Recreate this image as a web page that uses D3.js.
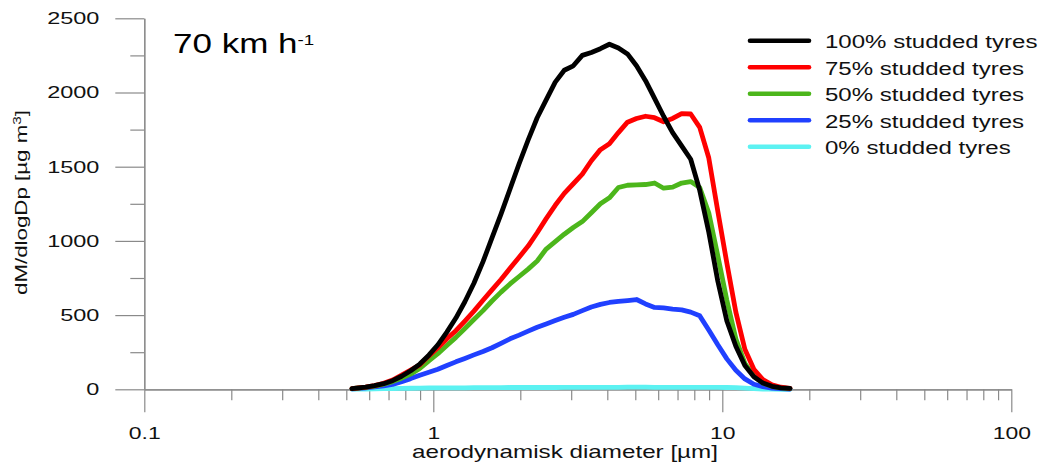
<!DOCTYPE html>
<html>
<head>
<meta charset="utf-8">
<script src="https://cdn.jsdelivr.net/npm/d3@7"></script>
<style>
  html, body { margin: 0; padding: 0; background: #fff; }
  svg { display: block; font-family: "Liberation Sans", Arial, sans-serif; }
</style>
</head>
<body>
<svg id="chart" width="1044" height="470"></svg>
<script>
// Aerodynamic diameter bins (µm)
const diameters = [0.523, 0.542, 0.583, 0.626, 0.673, 0.723, 0.777, 0.835, 0.898, 0.965,
  1.037, 1.114, 1.197, 1.286, 1.382, 1.486, 1.596, 1.715, 1.843, 1.981,
  2.129, 2.288, 2.458, 2.642, 2.839, 3.051, 3.278, 3.523, 3.786, 4.068,
  4.371, 4.698, 5.048, 5.425, 5.829, 6.264, 6.732, 7.234, 7.774, 8.354,
  8.977, 9.647, 10.37, 11.14, 11.97, 12.86, 13.82, 14.86, 15.96, 17.15];

// dM/dlogDp (µg m-3) for each share of studded tyres
const studded100 = [5, 8, 15, 25, 38, 58, 88, 125, 170, 230,
  300, 385, 480, 590, 715, 860, 1020, 1180, 1350, 1520,
  1680, 1830, 1950, 2070, 2150, 2180, 2250, 2270, 2295, 2325,
  2300, 2260, 2180, 2080, 1960, 1840, 1730, 1640, 1550, 1340,
  1060, 730, 460, 290, 160, 85, 42, 20, 10, 6];
const studded75 = [5, 8, 15, 25, 40, 62, 95, 130, 165, 225,
  280, 340, 395, 460, 527, 600, 670, 740, 815, 890,
  965, 1055, 1150, 1240, 1320, 1385, 1450, 1540, 1615, 1655,
  1730, 1800, 1825, 1840, 1830, 1803, 1825, 1858, 1855, 1765,
  1560, 1200, 850, 520, 270, 135, 65, 30, 14, 7];
const studded50 = [4, 7, 13, 22, 35, 52, 75, 102, 140, 192,
  240, 295, 350, 410, 470, 530, 595, 655, 710, 760,
  810, 865, 945, 995, 1045, 1090, 1130, 1190, 1250, 1290,
  1360, 1375, 1378, 1380, 1390, 1355, 1362, 1390, 1400, 1360,
  1190, 900, 600, 340, 175, 90, 42, 20, 9, 5];
const studded25 = [3, 5, 10, 16, 23, 33, 51, 72, 95, 115,
  135, 160, 185, 208, 232, 255, 280, 310, 340, 365,
  392, 418, 440, 463, 485, 505, 530, 555, 572, 585,
  592, 598, 605, 575, 552, 548, 540, 535, 520, 495,
  400, 300, 205, 128, 70, 34, 18, 8, 4, 2];
const studded0 = [1, 1, 2, 3, 4, 5, 6, 7, 8, 9,
  9, 10, 10, 10, 11, 11, 11, 11, 12, 12,
  12, 12, 12, 12, 13, 13, 13, 13, 13, 13,
  13, 14, 14, 14, 13, 13, 13, 13, 13, 13,
  13, 13, 12, 11, 8, 4, 2, 1, 0, 0];

const seriesNames = ["100% studded tyres", "75% studded tyres", "50% studded tyres",
  "25% studded tyres", "0% studded tyres"];
const seriesValues = [studded100, studded75, studded50, studded25, studded0];
const seriesColors = ["#000000", "#ff0000", "#4cb61b", "#2040ff", "#5cf2f2"];

const yMajorTicks = [0, 500, 1000, 1500, 2000, 2500];
const yMinorTicks = [250, 750, 1250, 1750, 2250];
const xMajorTicks = [0.1, 1, 10, 100];
const xTickLabels = ["0.1", "1", "10", "100"];

const svg = d3.select("#chart");
const x = d3.scaleLog().domain([0.1, 100]).range([144.3, 1011.3]);
const y = d3.scaleLinear().domain([0, 2500]).range([389.3, 18.3]);
const axisGrey = "#8a8a8a";

// widen a text element horizontally around its anchor point
function widen(sel, sx) {
  sel.each(function () {
    const t = d3.select(this);
    const tx = +t.attr("x") || 0;
    t.attr("x", 0).attr("transform", `translate(${tx},0) scale(${sx},1)`);
  });
}

// ---- y axis ----
const yMinor = svg.append("g").attr("transform", `translate(${x(0.1)},0)`)
  .call(d3.axisLeft(y).tickValues(yMinorTicks).tickSize(14).tickSizeOuter(0).tickFormat(""));
const yMajor = svg.append("g").attr("transform", `translate(${x(0.1)},0)`)
  .call(d3.axisLeft(y).tickValues(yMajorTicks).tickSize(29).tickPadding(16).tickSizeOuter(0)
    .tickFormat(d3.format("d")));
[yMinor, yMajor].forEach(g => {
  g.select(".domain").attr("stroke", axisGrey).attr("stroke-width", 1.2);
  g.selectAll(".tick line").attr("stroke", axisGrey).attr("stroke-width", 1.2);
});
yMajor.selectAll(".tick text").attr("fill", "#111").attr("font-size", 17)
  .attr("font-family", "Liberation Sans, Arial, sans-serif").call(widen, 1.38);

// ---- x axis ----
const xMinorTicks = x.ticks().filter(v => !xMajorTicks.some(m => Math.abs(m - v) < 1e-9));
const xMinor = svg.append("g").attr("transform", `translate(0,${y(0)})`)
  .call(d3.axisBottom(x).tickValues(xMinorTicks).tickSize(11).tickSizeOuter(0).tickFormat(""));
const xMajor = svg.append("g").attr("transform", `translate(0,${y(0)})`)
  .call(d3.axisBottom(x).tickValues(xMajorTicks).tickSize(23).tickPadding(15).tickSizeOuter(0)
    .tickFormat((d, i) => xTickLabels[i]));
[xMinor, xMajor].forEach(g => {
  g.select(".domain").attr("stroke", axisGrey).attr("stroke-width", 1.2);
  g.selectAll(".tick line").attr("stroke", axisGrey).attr("stroke-width", 1.2);
});
xMajor.selectAll(".tick text").attr("fill", "#111").attr("font-size", 17)
  .attr("font-family", "Liberation Sans, Arial, sans-serif").call(widen, 1.35);

// ---- curves (drawn from 0% up to 100% so the 100% line is on top) ----
const line = d3.line()
  .x(d => x(d.d))
  .y(d => y(d.v));
for (let s = seriesValues.length - 1; s >= 0; s--) {
  const pts = diameters.map((d, i) => ({ d: d, v: seriesValues[s][i] }));
  svg.append("path")
    .datum(pts)
    .attr("d", line)
    .attr("fill", "none")
    .attr("stroke", seriesColors[s])
    .attr("stroke-width", 4.8)
    .attr("stroke-linejoin", "round")
    .attr("stroke-linecap", "round");
}

// ---- legend ----
const legend = svg.append("g");
seriesNames.forEach((name, i) => {
  const ly = 40.7 + i * 26.5;
  legend.append("line")
    .attr("x1", 750).attr("x2", 809).attr("y1", ly).attr("y2", ly)
    .attr("stroke", seriesColors[i]).attr("stroke-width", 4.6).attr("stroke-linecap", "round");
  legend.append("g").attr("transform", `translate(825,${ly + 7.3}) scale(1.3,1)`)
    .append("text").attr("fill", "#111").attr("font-size", 18.5).text(name);
});

// ---- speed label ----
const speed = svg.append("g").attr("transform", "translate(173,53.3) scale(1.25,1)")
  .append("text").attr("fill", "#000").attr("font-size", 28);
speed.append("tspan").text("70 km h");
speed.append("tspan").attr("font-size", 15).attr("dy", -8.5).text("-1");

// ---- axis titles ----
const xTitleG = svg.append("g");
const xTitle = xTitleG.append("text").attr("text-anchor", "middle").attr("fill", "#111")
  .attr("font-size", 18).text("aerodynamisk diameter [µm]");
const xw = xTitle.node().getBBox().width;
xTitleG.attr("transform", `translate(565,458) scale(${306 / xw},1)`);

const yTitleG = svg.append("g");
const yTitle = yTitleG.append("text").attr("text-anchor", "middle").attr("fill", "#111")
  .attr("font-size", 16);
yTitle.append("tspan").text("dM/dlogDp [µg m");
yTitle.append("tspan").attr("font-size", 11).attr("dy", -6).text("3");
yTitle.append("tspan").attr("dy", 6).text("]");
const yw = yTitle.node().getBBox().width;
yTitleG.attr("transform", `translate(27,202.5) rotate(-90) scale(${185 / yw},1)`);
</script>
</body>
</html>
